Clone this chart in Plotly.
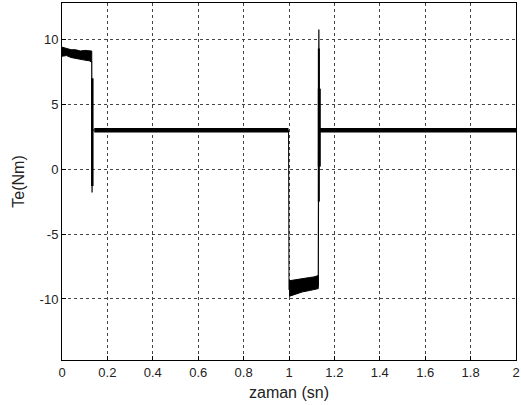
import plotly.graph_objects as go

# ---- data ----
# steady level segments (Nm)
level_t1 = [0.142, 0.998]
level_v1 = [3.0, 3.0]
level_t2 = [1.134, 2.0]
level_v2 = [3.0, 3.0]

# noisy band 1 (start-up, ~9 Nm)
band1_t = [0.0, 0.02, 0.04, 0.06, 0.08, 0.10, 0.12, 0.131]
band1_hi = [9.4, 9.3, 9.2, 9.2, 9.1, 9.15, 9.15, 9.1]
band1_lo = [8.7, 8.75, 8.6, 8.55, 8.45, 8.4, 8.35, 8.25]

# noisy band 2 (reverse, ~-9 Nm)
band2_t = [1.0, 1.03, 1.06, 1.09, 1.11, 1.129]
band2_hi = [-8.6, -8.5, -8.45, -8.35, -8.3, -8.2]
band2_lo = [-9.8, -9.6, -9.45, -9.35, -9.3, -9.2]

# transients (thin lines)
drop1_t = [0.131, 0.1325, 0.134, 0.142]
drop1_v = [8.3, -1.8, 3.0, 3.0]
drop1_thick_t = [0.1335, 0.1335]
drop1_thick_v = [7.0, -1.3]

step2_t = [0.998, 1.0]
step2_v = [3.0, -9.3]

rise2_t = [1.129, 1.1315, 1.133, 1.134]
rise2_v = [-9.0, 10.75, 3.0, 3.0]
rise2_thick_t = [1.1315, 1.1315]
rise2_thick_v = [9.3, -2.5]
rise2_thicker_t = [1.1335, 1.1335]
rise2_thicker_v = [6.2, 0.2]

x_ticks = [0, 0.2, 0.4, 0.6, 0.8, 1, 1.2, 1.4, 1.6, 1.8, 2]
x_labels = ["0", "0.2", "0.4", "0.6", "0.8", "1", "1.2", "1.4", "1.6", "1.8", "2"]
y_ticks = [-10, -5, 0, 5, 10]
y_labels = ["-10", "-5", "0", "5", "10"]

fig = go.Figure()

def band(t, hi, lo):
    return go.Scatter(x=t + t[::-1], y=hi + lo[::-1], fill="toself",
                      fillcolor="black", mode="lines",
                      line=dict(color="black", width=1), hoverinfo="skip",
                      showlegend=False)

fig.add_trace(band(band1_t, band1_hi, band1_lo))
fig.add_trace(band(band2_t, band2_hi, band2_lo))

def line(t, v, w):
    return go.Scatter(x=t, y=v, mode="lines", line=dict(color="black", width=w),
                      showlegend=False, hoverinfo="skip")

fig.add_trace(line(level_t1, level_v1, 4.5))
fig.add_trace(line(level_t2, level_v2, 4.5))
fig.add_trace(line(drop1_t, drop1_v, 1.2))
fig.add_trace(line(drop1_thick_t, drop1_thick_v, 2.5))
fig.add_trace(line(step2_t, step2_v, 1.0))
fig.add_trace(line(rise2_t, rise2_v, 1.2))
fig.add_trace(line(rise2_thick_t, rise2_thick_v, 2))
fig.add_trace(line(rise2_thicker_t, rise2_thicker_v, 3))

axis_common = dict(
    showline=True, linecolor="black", linewidth=1, mirror=True,
    showgrid=True, gridcolor="#444", gridwidth=1, griddash="3px,3px",
    zeroline=False, ticks="inside", ticklen=4, tickcolor="black",
    automargin=False,
    tickfont=dict(family="Liberation Sans, Arial, sans-serif", size=13, color="#222"),
    title_font=dict(family="Liberation Sans, Arial, sans-serif", size=16, color="#222"),
)

fig.update_xaxes(range=[0, 2], tickvals=x_ticks, ticktext=x_labels,
                 title_text="zaman (sn)", title_standoff=8, **axis_common)
fig.update_yaxes(range=[-14.7, 12.8], tickvals=y_ticks, ticktext=y_labels,
                 title_text="Te(Nm)", title_standoff=11, **axis_common)

fig.update_layout(
    width=521, height=405,
    margin=dict(l=62, r=5, t=3, b=45),
    paper_bgcolor="white", plot_bgcolor="white",
    showlegend=False,
)

fig.write_html("out.html", config={"displayModeBar": False},
               post_script="document.body.style.margin='0';")
